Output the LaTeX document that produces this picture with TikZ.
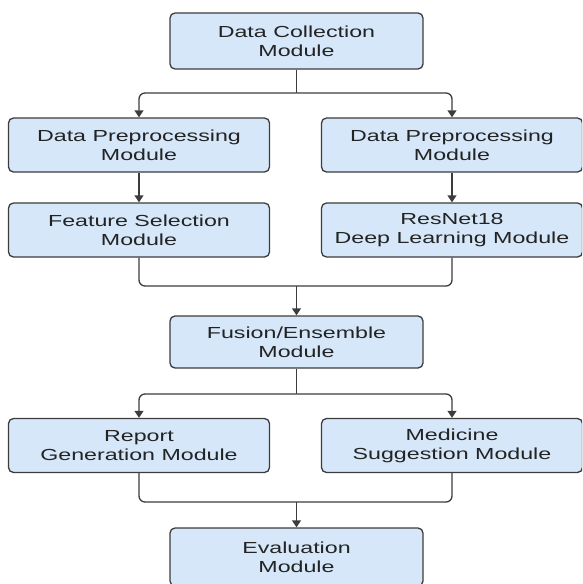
\documentclass[tikz,border=0pt]{standalone}
\usepackage{fontspec}
\setmainfont[FakeStretch=1.45]{Liberation Sans}
\usetikzlibrary{calc,arrows.meta}
\definecolor{boxfill}{RGB}{213,231,249}
\definecolor{boxline}{RGB}{60,60,60}
\definecolor{inkgray}{RGB}{35,35,35}

\begin{document}
\begin{tikzpicture}[
x=1pt, y=1pt,
module/.style={
	draw=boxline, fill=boxfill, line width=1.3pt,
	rounded corners=5pt, inner sep=0pt, align=center,
	minimum height=54pt, text=inkgray,
	font=\fontsize{16}{19}\selectfont
},
mid/.style={module, minimum width=253pt},
side/.style={module, minimum width=261pt},
link/.style={draw=boxline, line width=1.3pt, rounded corners=6pt},
>={Triangle[width=9pt,length=7pt]}
]
\clip (0,0) rectangle (582,-584);
\node[mid, minimum height=56pt] (collect) at (296.5,-41) {Data Collection\\Module};
\node[side] (prepA) at (139,-145) {Data Preprocessing\\Module};
\node[side] (prepB) at (452,-145) {Data Preprocessing\\Module};
\node[side] (select) at (139,-230) {Feature Selection\\Module};
\node[side] (resnet) at (452,-230) {ResNet18\\Deep Learning Module};
\node[mid, minimum height=52pt] (fusion) at (296.5,-342) {Fusion/Ensemble\\Module};
\node[side] (report) at (139,-445.5) {Report\\Generation Module};
\node[side] (medicine) at (452,-445.5) {Medicine\\Suggestion Module};
\node[mid, minimum height=58pt] (evaluation) at (296.5,-557) {Evaluation\\Module};
\coordinate (split1) at (296.5,-93);
\coordinate (join1) at (296.5,-286);
\coordinate (split2) at (296.5,-394);
\coordinate (join2) at (296.5,-502);
\draw[link] (collect) -- (split1);
\draw[link,->] (split1) -| (prepA);
\draw[link,->] (split1) -| (prepB);
\draw[link,->] (prepA) -- (select);
\draw[link,->] (prepB) -- (resnet);
\draw[link] (select) |- (join1) -| (resnet);
\draw[link,->] (join1) -- (fusion);
\draw[link] (fusion) -- (split2);
\draw[link,->] (split2) -| (report);
\draw[link,->] (split2) -| (medicine);
\draw[link] (report) |- (join2) -| (medicine);
\draw[link,->] (join2) -- (evaluation);
\end{tikzpicture}
\end{document}
